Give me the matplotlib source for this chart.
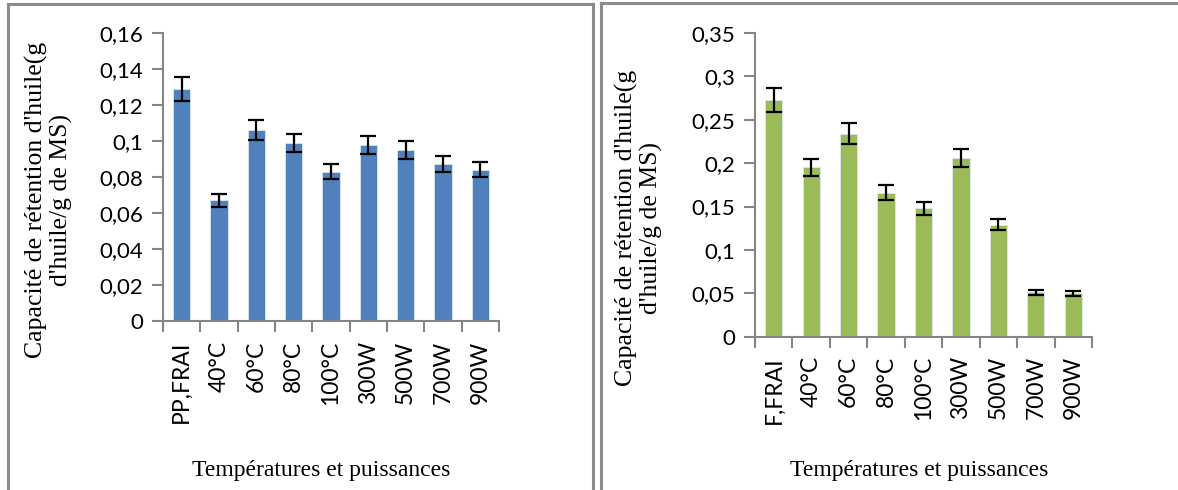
import matplotlib
matplotlib.use("Agg")
import matplotlib.pyplot as plt
from matplotlib.lines import Line2D
from matplotlib.ticker import FuncFormatter, FixedLocator
import numpy as np

# données : capacité de rétention d'huile (moyenne et écart-type)
labels_pp = ["PP,FRAI", "40°C", "60°C", "80°C", "100°C", "300W", "500W", "700W", "900W"]
crh_pp = [0.129, 0.067, 0.106, 0.099, 0.083, 0.098, 0.095, 0.087, 0.084]
err_pp = [0.0067, 0.0034, 0.0054, 0.0050, 0.0043, 0.0050, 0.0048, 0.0044, 0.0042]

labels_f = ["F,FRAI", "40°C", "60°C", "80°C", "100°C", "300W", "500W", "700W", "900W"]
crh_f = [0.273, 0.195, 0.234, 0.166, 0.148, 0.206, 0.129, 0.051, 0.050]
err_f = [0.0137, 0.0100, 0.0120, 0.0083, 0.0075, 0.0104, 0.0066, 0.0029, 0.0027]

ylabel = "Capacité de rétention d'huile(g\nd'huile/g de MS)"
xlabel = "Températures et puissances"

W, H = 1178, 490
fig = plt.figure(figsize=(W / 100, H / 100), dpi=100)

tick_font = "Lato"
serif = "Liberation Serif"
gris = "#868686"


def virgule(v, pos):
    s = f"{v:.2f}".rstrip("0").rstrip(".")
    return s.replace(".", ",")


def panneau(rect, labels, vals, errs, color, ymax, ystep):
    ax = fig.add_axes(rect)
    x = np.arange(len(labels))
    ax.bar(x, vals, width=0.46, color=color, edgecolor="#dde6f0", linewidth=0.6, zorder=2)
    ax.errorbar(x, vals, yerr=errs, fmt="none", ecolor="black", elinewidth=1.6,
                capsize=5.5, capthick=1.6, zorder=3)
    ax.set_xlim(-0.5, len(labels) - 0.5)
    ax.set_ylim(0, ymax)
    ax.yaxis.set_major_locator(FixedLocator(np.arange(0, ymax + ystep / 2, ystep)))
    ax.yaxis.set_major_formatter(FuncFormatter(virgule))
    ax.set_xticks(x)
    ax.set_xticklabels(labels, rotation=90, fontfamily=tick_font, fontsize=16.5)
    ax.set_xticks(np.arange(-0.5, len(labels)), minor=True)
    ax.tick_params(axis="x", which="major", length=0, pad=14)
    ax.tick_params(axis="x", which="minor", length=8, width=1.5, color=gris, direction="out")
    ax.tick_params(axis="y", length=8, width=1.5, color=gris, pad=6, labelsize=16)
    for t in ax.get_yticklabels():
        t.set_fontfamily(tick_font)
    for s in ["top", "right"]:
        ax.spines[s].set_visible(False)
    for s in ["left", "bottom"]:
        ax.spines[s].set_color(gris)
        ax.spines[s].set_linewidth(1.5)
    return ax


panneau([163 / W, 1 - 321 / H, 336 / W, 288 / H], labels_pp, crh_pp, err_pp,
        "#4F81BD", 0.16, 0.02)
panneau([755 / W, 1 - 336.7 / H, 337 / W, 303.7 / H], labels_f, crh_f, err_f,
        "#9BBB59", 0.35, 0.05)

# titres des axes
fig.text(49 / W, 1 - 200 / H, ylabel, rotation=90, ha="center", va="center",
         fontfamily=serif, fontsize=18.5, multialignment="center", linespacing=1.1)
fig.text(639 / W, 1 - 228 / H, ylabel, rotation=90, ha="center", va="center",
         fontfamily=serif, fontsize=18.5, multialignment="center", linespacing=1.1)
fig.text(321 / W, 1 - 470 / H, xlabel, ha="center", va="center",
         fontfamily=serif, fontsize=17)
fig.text(919 / W, 1 - 470 / H, xlabel, ha="center", va="center",
         fontfamily=serif, fontsize=17)

# cadres des deux graphiques
def cadre(x0, x1, y0):
    yt = 1 - y0 / H
    kw = dict(color="#8c8c8c", linewidth=2.2, transform=fig.transFigure)
    fig.add_artist(Line2D([x0 / W, x0 / W], [0, yt], **kw))
    fig.add_artist(Line2D([x0 / W, x1 / W], [yt, yt], **kw))
    if x1 < W:
        fig.add_artist(Line2D([x1 / W, x1 / W], [0, yt], **kw))

cadre(8, 593, 4)
cadre(601, W + 5, 3)

fig.savefig("out.png", dpi=100)
